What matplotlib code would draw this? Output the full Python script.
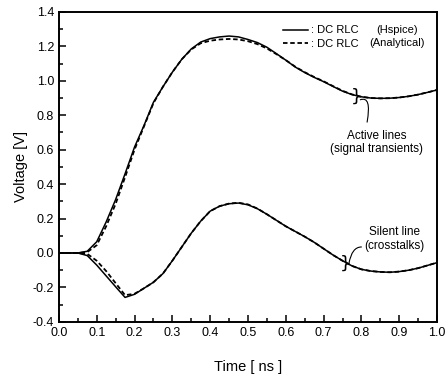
import numpy as np
import matplotlib.pyplot as plt
from matplotlib.ticker import MultipleLocator

plt.rcParams['font.family'] = ['Liberation Sans', 'DejaVu Sans']

# time axis [ns]
t = np.arange(41) * 0.025

# active line, Hspice / analytical
active_hspice = [0.0, 0.0, 0.0, 0.01, 0.065, 0.18, 0.31, 0.46, 0.615, 0.74,
                 0.875, 0.965, 1.05, 1.125, 1.185, 1.225, 1.245, 1.255, 1.26, 1.255,
                 1.24, 1.222, 1.195, 1.158, 1.12, 1.08, 1.048, 1.02, 0.995, 0.967,
                 0.94, 0.92, 0.907, 0.9, 0.898, 0.899, 0.903, 0.91, 0.92, 0.933, 0.947]
active_analyt = [0.0, 0.0, 0.0, 0.005, 0.045, 0.155, 0.285, 0.44, 0.6, 0.735,
                 0.87, 0.965, 1.05, 1.125, 1.182, 1.218, 1.233, 1.24, 1.243, 1.24,
                 1.23, 1.213, 1.188, 1.155, 1.12, 1.082, 1.05, 1.022, 0.997, 0.969,
                 0.942, 0.921, 0.907, 0.9, 0.898, 0.899, 0.903, 0.91, 0.92, 0.933, 0.947]

# silent line, Hspice / analytical
silent_hspice = [0.0, 0.0, 0.0, -0.015, -0.07, -0.133, -0.196, -0.258, -0.24, -0.205,
                 -0.17, -0.12, -0.045, 0.035, 0.115, 0.185, 0.243, 0.272, 0.286, 0.29,
                 0.28, 0.257, 0.225, 0.19, 0.155, 0.125, 0.095, 0.062, 0.025, -0.012,
                 -0.045, -0.075, -0.095, -0.105, -0.11, -0.112, -0.108, -0.1, -0.088, -0.072, -0.056]
silent_analyt = [0.0, 0.0, 0.0, -0.005, -0.045, -0.105, -0.175, -0.245, -0.237, -0.205,
                 -0.17, -0.12, -0.045, 0.035, 0.115, 0.185, 0.243, 0.272, 0.287, 0.292,
                 0.282, 0.258, 0.225, 0.19, 0.155, 0.125, 0.095, 0.062, 0.025, -0.012,
                 -0.045, -0.075, -0.095, -0.105, -0.11, -0.112, -0.108, -0.1, -0.088, -0.072, -0.056]

fig = plt.figure(figsize=(4.46, 3.85), dpi=100)
ax = fig.add_axes([0.132, 0.164, 0.848, 0.805])

ax.plot(t, active_hspice, 'k-', lw=1.1)
ax.plot(t, active_analyt, 'k--', lw=1.3, dashes=(2.5, 1.5))
ax.plot(t, silent_hspice, 'k-', lw=1.1, label=': DC RLC')
ax.plot(t, silent_analyt, 'k--', lw=1.3, dashes=(2.5, 1.5), label=': DC RLC')

ax.set_xlim(0, 1.0)
ax.set_ylim(-0.4, 1.4)
ax.xaxis.set_major_locator(MultipleLocator(0.1))
ax.xaxis.set_minor_locator(MultipleLocator(0.05))
ax.yaxis.set_major_locator(MultipleLocator(0.2))
ax.yaxis.set_minor_locator(MultipleLocator(0.1))
ax.tick_params(which='both', direction='in', labelsize=9, width=1.1)
ax.tick_params(which='major', length=5)
ax.tick_params(which='minor', length=3)
ax.xaxis.set_major_formatter(plt.FormatStrFormatter('%.1f'))
ax.yaxis.set_major_formatter(plt.FormatStrFormatter('%.1f'))
for s in ax.spines.values():
    s.set_linewidth(1.4)

ax.set_xlabel('Time [ ns ]', fontsize=10.5, labelpad=15)
ax.set_ylabel('Voltage [V]', fontsize=10.5, labelpad=3)

leg = ax.legend(loc='upper left', bbox_to_anchor=(0.57, 0.985), frameon=False,
                fontsize=8, handlelength=2.2, handletextpad=0.3, labelspacing=0.3,
                borderpad=0.3)
ax.text(0.895, 0.942, '(Hspice)', transform=ax.transAxes, fontsize=8, ha='center', va='center')
ax.text(0.895, 0.899, '(Analytical)', transform=ax.transAxes, fontsize=8, ha='center', va='center')

# annotations
ax.text(0.788, 0.905, '}', fontsize=13, ha='center', va='center', family='DejaVu Sans')
ax.annotate('', xy=(0.797, 0.89), xytext=(0.815, 0.76),
            arrowprops=dict(arrowstyle='-', lw=0.8, connectionstyle='angle3,angleA=80,angleB=20',
                            shrinkA=0, shrinkB=0))
ax.text(0.84, 0.64, 'Active lines\n(signal transients)', fontsize=8.5, ha='center', va='center',
        linespacing=1.15)
ax.text(0.757, -0.06, '}', fontsize=13, ha='center', va='center', family='DejaVu Sans')
ax.annotate('', xy=(0.767, -0.06), xytext=(0.8, 0.035),
            arrowprops=dict(arrowstyle='-', lw=0.8, connectionstyle='angle3,angleA=0,angleB=80',
                            shrinkA=0, shrinkB=0))
ax.text(0.887, 0.082, 'Silent line\n(crosstalks)', fontsize=8.5, ha='center', va='center',
        linespacing=1.15)

fig.savefig('out.png', dpi=100)
